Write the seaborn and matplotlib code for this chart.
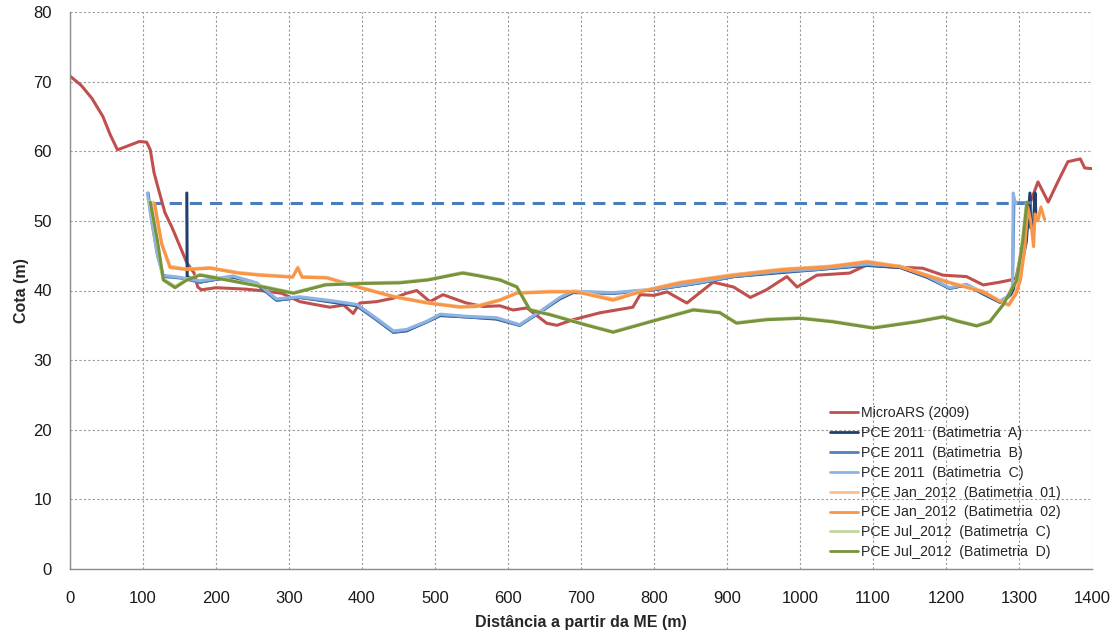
import pandas as pd
import matplotlib
matplotlib.use("Agg")
import matplotlib.pyplot as plt
import seaborn as sns

# cross-section profiles (distance m, elevation m)
micro_x = [0, 15, 30, 45, 55, 65, 80, 95, 105, 110, 115, 120, 130, 140, 150, 160, 170, 175, 180, 200, 220, 240, 260,
           290, 315, 335, 356, 375, 388, 397, 420, 443, 461, 475, 493, 511, 543, 566, 589, 607, 626, 653, 667, 689,
           726, 771, 781, 800, 818, 845, 881, 909, 932, 954, 982, 996, 1023, 1068, 1092, 1123, 1168, 1196, 1228,
           1251, 1274, 1288, 1296, 1305, 1315, 1326, 1340, 1355, 1367, 1384, 1390, 1400]
micro_y = [70.8, 69.5, 67.6, 65.0, 62.4, 60.2, 60.8, 61.4, 61.3, 60.2, 57.0, 55.0, 51.2, 49.0, 46.5, 44.0, 42.5, 40.5,
           40.1, 40.4, 40.3, 40.2, 40.0, 39.6, 38.4, 38.0, 37.6, 37.9, 36.7, 38.2, 38.4, 38.9, 39.6, 40.0, 38.4, 39.4,
           38.2, 37.7, 37.8, 37.2, 37.5, 35.3, 35.0, 35.8, 36.8, 37.6, 39.4, 39.3, 39.8, 38.2, 41.2, 40.5, 39.0, 40.1,
           42.0, 40.5, 42.2, 42.5, 43.7, 43.4, 43.2, 42.2, 42.0, 40.8, 41.2, 41.5, 41.8, 46.5, 52.5, 55.6, 52.7,
           56.0, 58.5, 58.9, 57.6, 57.5]

bat_a_x = [160, 160.5, 178, 200, 223, 256, 283, 315, 361, 393, 420, 443, 461, 489, 507, 543, 584, 616, 644, 671,
           689, 744, 799, 863, 909, 977, 1023, 1092, 1137, 1174, 1205, 1228, 1251, 1274, 1290, 1300, 1310, 1315,
           1316, 1320, 1322, 1323]
bat_a_y = [54.0, 42.0, 41.2, 41.6, 41.9, 40.9, 38.6, 39.0, 38.3, 37.8, 35.8, 34.0, 34.2, 35.5, 36.4, 36.2, 35.9, 35.0,
           36.9, 38.8, 39.7, 39.6, 40.1, 41.1, 42.0, 42.6, 43.0, 43.6, 43.3, 41.9, 40.3, 40.8, 39.5, 38.3, 39.5,
           42.0, 47.0, 54.0, 49.0, 50.0, 54.0, 51.0]

bat_b_x = [107, 112, 120, 128, 150, 178, 200, 223, 256, 283, 315, 361, 393, 420, 443, 461, 489, 507, 543, 584, 616,
           644, 671, 689, 744, 799, 863, 909, 977, 1023, 1092, 1137, 1174, 1205, 1228, 1251, 1274, 1285, 1291, 1293,
           1300, 1316]
bat_b_y = [54.0, 50.0, 45.0, 42.0, 41.8, 41.2, 41.6, 42.0, 41.0, 38.6, 39.0, 38.4, 37.9, 35.8, 34.0, 34.3, 35.5, 36.5,
           36.2, 36.0, 35.0, 36.9, 38.9, 39.8, 39.6, 40.1, 41.1, 42.0, 42.7, 43.0, 43.7, 43.4, 42.0, 40.3, 40.8,
           39.6, 38.4, 39.0, 40.5, 52.6, 52.6, 52.6]

bat_c_x = [106, 111, 119, 127, 150, 178, 200, 223, 256, 283, 315, 361, 393, 420, 443, 461, 489, 507, 543, 584, 616,
           644, 671, 689, 744, 799, 863, 909, 977, 1023, 1092, 1137, 1174, 1205, 1228, 1251, 1274, 1285, 1291, 1292,
           1294, 1296]
bat_c_y = [54.0, 50.5, 45.5, 42.2, 41.9, 41.4, 41.7, 42.1, 41.1, 38.8, 39.1, 38.5, 38.0, 36.0, 34.2, 34.4, 35.6, 36.6,
           36.3, 36.1, 35.1, 37.0, 39.0, 39.9, 39.7, 40.2, 41.2, 42.1, 42.8, 43.1, 43.8, 43.5, 42.1, 40.4, 40.9,
           39.7, 38.5, 39.2, 40.5, 54.0, 53.0, 52.6]

jan01_x = [114, 125, 137, 160, 192, 230, 260, 305, 312, 318, 352, 397, 443, 489, 534, 557, 589, 612, 658, 694, 744,
           781, 836, 909, 977, 1040, 1092, 1137, 1205, 1251, 1274, 1286, 1296, 1303, 1310]
jan01_y = [52.7, 47.0, 43.5, 43.1, 43.3, 42.6, 42.3, 42.0, 43.4, 42.0, 41.9, 40.5, 39.2, 38.3, 37.7, 37.8, 38.7, 39.7,
           39.9, 39.9, 38.8, 39.9, 41.2, 42.3, 43.1, 43.5, 44.2, 43.5, 41.2, 39.9, 38.5, 38.0, 40.0, 44.0, 50.5]

jan02_x = [116, 126, 137, 160, 192, 230, 260, 305, 312, 318, 352, 397, 443, 489, 534, 557, 589, 612, 658, 694, 744,
           781, 836, 909, 977, 1040, 1092, 1137, 1205, 1251, 1274, 1286, 1296, 1302, 1308, 1312, 1316, 1320, 1322,
           1326, 1330, 1335]
jan02_y = [52.5, 46.5, 43.3, 43.0, 43.2, 42.5, 42.2, 41.9, 43.2, 41.9, 41.8, 40.4, 39.1, 38.2, 37.6, 37.7, 38.6, 39.6,
           39.8, 39.8, 38.6, 39.8, 41.1, 42.2, 43.0, 43.4, 44.1, 43.4, 41.1, 39.8, 38.4, 37.9, 39.5, 41.5, 46.0,
           52.0, 50.0, 46.3, 51.0, 50.0, 52.0, 50.2]

julc_x = [109, 119, 127, 144, 160, 178, 200, 230, 260, 306, 350, 400, 452, 490, 538, 560, 589, 612, 630, 658, 708,
          744, 795, 854, 890, 913, 954, 1000, 1045, 1100, 1160, 1196, 1215, 1242, 1260, 1278, 1297, 1305, 1310]
julc_y = [52.8, 47.5, 41.7, 40.6, 41.6, 42.3, 41.9, 41.3, 40.7, 39.7, 40.9, 41.1, 41.2, 41.6, 42.6, 42.2, 41.6, 40.6,
          37.3, 36.6, 35.1, 34.1, 35.6, 37.3, 36.9, 35.4, 35.9, 36.1, 35.6, 34.7, 35.6, 36.3, 35.7, 35.0, 35.6, 38.0,
          41.6, 47.5, 52.5]

juld_x = [110, 120, 128, 144, 160, 178, 200, 230, 260, 306, 350, 400, 452, 490, 538, 560, 589, 612, 630, 658, 708,
          744, 795, 854, 890, 913, 954, 1000, 1045, 1100, 1160, 1196, 1215, 1242, 1260, 1278, 1297, 1305, 1311]
juld_y = [52.7, 47.0, 41.5, 40.4, 41.5, 42.2, 41.8, 41.2, 40.6, 39.6, 40.8, 41.0, 41.1, 41.5, 42.5, 42.1, 41.5, 40.5,
          37.2, 36.5, 35.0, 34.0, 35.5, 37.2, 36.8, 35.3, 35.8, 36.0, 35.5, 34.6, 35.5, 36.2, 35.6, 34.9, 35.5, 37.9,
          41.5, 47.0, 52.7]

# water level (dashed, not in legend)
nivel_x = [108, 1315]
nivel_y = [52.6, 52.6]

series = [
    ("MicroARS (2009)", micro_x, micro_y, "#c0504d"),
    ("PCE 2011  (Batimetria  A)", bat_a_x, bat_a_y, "#1f3f6e"),
    ("PCE 2011  (Batimetria  B)", bat_b_x, bat_b_y, "#4f81bd"),
    ("PCE 2011  (Batimetria  C)", bat_c_x, bat_c_y, "#8db3e2"),
    ("PCE Jan_2012  (Batimetria  01)", jan01_x, jan01_y, "#fac090"),
    ("PCE Jan_2012  (Batimetria  02)", jan02_x, jan02_y, "#f79646"),
    ("PCE Jul_2012  (Batimetria  C)", julc_x, julc_y, "#c3d69b"),
    ("PCE Jul_2012  (Batimetria  D)", juld_x, juld_y, "#77933c"),
]

frames = []
for name, xs, ys, _ in series:
    frames.append(pd.DataFrame({"dist": xs, "cota": ys, "serie": name}))
df = pd.concat(frames, ignore_index=True)
palette = {name: c for name, _, _, c in series}
order = [s[0] for s in series]

sns.set_style("white")
plt.rcParams["font.family"] = ["Liberation Sans", "DejaVu Sans"]

fig = plt.figure(figsize=(11.14, 6.36), dpi=100)
ax = fig.add_axes([70 / 1114, 1 - 569 / 636, 1022 / 1114, 557 / 636])

sns.lineplot(data=pd.DataFrame({"dist": nivel_x, "cota": nivel_y}), x="dist", y="cota", ax=ax,
             color="#4a7ebb", lw=2.2, linestyle=(0, (4, 2.6)), legend=False)
sns.lineplot(data=df, x="dist", y="cota", hue="serie", hue_order=order, palette=palette,
             estimator=None, sort=False, lw=2.2, ax=ax)

ax.set_xlim(0, 1400)
ax.set_ylim(0, 80)
ax.set_xticks(range(0, 1401, 100))
ax.set_yticks(range(0, 81, 10))
ax.grid(True, color="#9a9a9a", linestyle=(0, (2, 2)), lw=0.8)
ax.set_axisbelow(True)
for side in ["top", "right"]:
    ax.spines[side].set_visible(False)
for side in ["left", "bottom"]:
    ax.spines[side].set_color("#8c8c8c")
    ax.spines[side].set_linewidth(1.0)
ax.tick_params(axis="both", direction="out", length=5, width=0.8, color="#8c8c8c",
               labelsize=12, labelcolor="#1a1a1a")
ax.tick_params(axis="x", pad=11)
ax.tick_params(axis="y", pad=8)
ax.set_xlabel("Distância a partir da ME (m)", fontsize=11.5, fontweight="bold", labelpad=6)
ax.set_ylabel("Cota (m)", fontsize=11.5, fontweight="bold", labelpad=3)

leg = ax.legend(loc="upper left", bbox_to_anchor=(0.738, 0.302), frameon=False, fontsize=10.2,
                handlelength=2.0, handletextpad=0.2, labelspacing=0.41, borderaxespad=0)
for line in leg.get_lines():
    line.set_linewidth(2.0)

fig.savefig("out.png", dpi=100)
